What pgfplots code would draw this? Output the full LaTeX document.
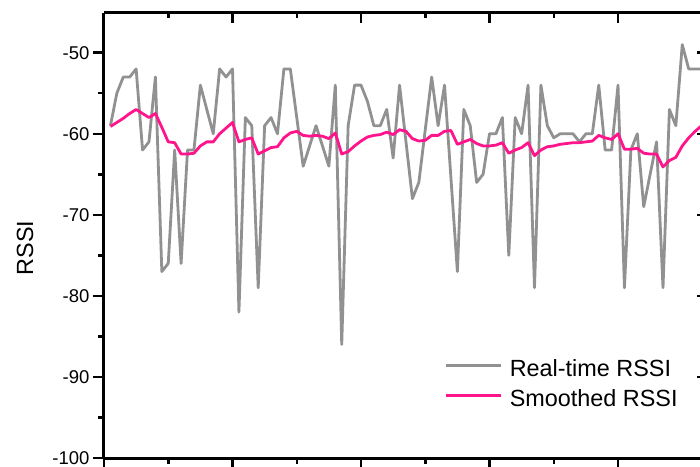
\documentclass[border=0pt]{standalone}
\usepackage{pgfplots}
\usepackage{pgfplotstable}
\pgfplotsset{compat=1.18}
\usepackage{fontspec}
\setmainfont{Liberation Sans}
\definecolor{rtgray}{RGB}{145,145,145}
\definecolor{smpink}{RGB}{255,20,140}

\pgfplotstableread{
x y
1 -59
2 -55
3 -53
4 -53
5 -52
6 -62
7 -61
8 -53
9 -77
10 -76
11 -62
12 -76
13 -62
14 -62
15 -54
16 -57
17 -60
18 -52
19 -53
20 -52
21 -82
22 -58
23 -59
24 -79
25 -59
26 -58
27 -60
28 -52
29 -52
30 -58
31 -64
32 -61.5
33 -59
34 -61.5
35 -64
36 -54
37 -86
38 -59
39 -54
40 -54
41 -56
42 -59
43 -59
44 -57
45 -63
46 -54
47 -61
48 -68
49 -66
50 -59.5
51 -53
52 -59
53 -54
54 -65.5
55 -77
56 -57
57 -59
58 -66
59 -65
60 -60
61 -60
62 -58
63 -75
64 -58
65 -60
66 -54
67 -79
68 -54
69 -59
70 -60.5
71 -60
72 -60
73 -60
74 -61
75 -60
76 -60
77 -54
78 -62
79 -62
80 -54
81 -79
82 -62
83 -60
84 -69
85 -65
86 -61
87 -79
88 -57
89 -59
90 -49
91 -52
92 -52
93 -52
}\rawdata

\pgfplotstableread{
x y
1 -59.1
2 -58.6
3 -58.1
4 -57.5
5 -57.0
6 -57.5
7 -58.0
8 -57.5
9 -59.2
10 -61.0
11 -61.1
12 -62.5
13 -62.5
14 -62.4
15 -61.5
16 -61.0
17 -61.0
18 -60.0
19 -59.3
20 -58.6
21 -61.0
22 -60.7
23 -60.5
24 -62.5
25 -62.1
26 -61.7
27 -61.6
28 -60.5
29 -59.9
30 -59.7
31 -60.2
32 -60.3
33 -60.2
34 -60.3
35 -60.6
36 -59.9
37 -62.5
38 -62.2
39 -61.5
40 -60.9
41 -60.4
42 -60.2
43 -60.1
44 -59.8
45 -60.1
46 -59.5
47 -59.7
48 -60.6
49 -60.9
50 -60.8
51 -60.2
52 -60.2
53 -59.7
54 -59.6
55 -61.3
56 -61.0
57 -60.7
58 -61.2
59 -61.5
60 -61.5
61 -61.4
62 -61.1
63 -62.4
64 -62.0
65 -61.7
66 -61.1
67 -62.7
68 -62.0
69 -61.6
70 -61.5
71 -61.3
72 -61.2
73 -61.1
74 -61.1
75 -61.0
76 -60.9
77 -60.2
78 -60.5
79 -60.7
80 -60.0
81 -61.9
82 -61.9
83 -61.8
84 -62.4
85 -62.5
86 -62.5
87 -64.1
88 -63.3
89 -62.9
90 -61.5
91 -60.5
92 -59.7
93 -59.0
}\smoothdata

\begin{document}
\begin{tikzpicture}
\clip (-104pt,-8pt) rectangle (596pt,458pt);
% top and right frame with inward ticks
\begin{axis}[
  at={(0pt,0pt)}, anchor=south west,
  scale only axis, width=603pt, height=445pt,
  xmin=0, xmax=93.85, ymin=-100, ymax=-45.1,
  axis x line*=top, axis y line*=right,
  axis line style={line width=3pt, -},
  tick align=inside,
  xtick={0,20,40,60,80}, minor x tick num=1,
  ytick={-100,-90,-80,-70,-60,-50}, minor y tick num=1,
  xticklabels={}, yticklabels={},
  major tick length=10pt, minor tick length=5pt,
  every tick/.style={black, line width=2.5pt},
]
\addplot[draw=none] coordinates {(0,-100)};
\end{axis}
% main axis
\begin{axis}[
  at={(0pt,0pt)}, anchor=south west,
  scale only axis, width=603pt, height=445pt,
  xmin=0, xmax=93.85, ymin=-100, ymax=-45.1,
  axis x line*=bottom, axis y line*=left,
  axis line style={line width=3pt, -},
  tick align=outside,
  xtick={0,20,40,60,80}, minor x tick num=1,
  xticklabels={},
  ytick={-100,-90,-80,-70,-60,-50}, minor y tick num=1,
  major tick length=11pt, minor tick length=6pt,
  every tick/.style={black, line width=2.5pt},
  yticklabel style={font=\fontsize{18.5}{20}\selectfont},
  /pgf/number format/assume math mode=true,
  ylabel={RSSI},
  every axis y label/.style={at={(axis description cs:-0.131,0.472)}, rotate=90, anchor=center, font=\fontsize{23.4}{26}\selectfont},
  legend style={draw=none, fill=none, inner sep=0pt, outer sep=0pt,
    at={(axis description cs:0.5655,0.1663)}, anchor=west,
    font=\fontsize{23.4}{26}\selectfont,
    nodes={inner sep=0pt},
    row sep=11pt,
    /tikz/every odd column/.append style={column sep=7pt}},
  legend cell align=left,
  legend image code/.code={\draw[#1] (0pt,0.35em) -- (55pt,0.35em);},
]
\addplot[rtgray, line width=2.8pt, line join=round] table[x=x,y=y] {\rawdata};
\addlegendentry{Real-time RSSI}
\addplot[smpink, line width=2.8pt, line join=round] table[x=x,y=y] {\smoothdata};
\addlegendentry{Smoothed RSSI}
\end{axis}
\end{tikzpicture}
\end{document}
